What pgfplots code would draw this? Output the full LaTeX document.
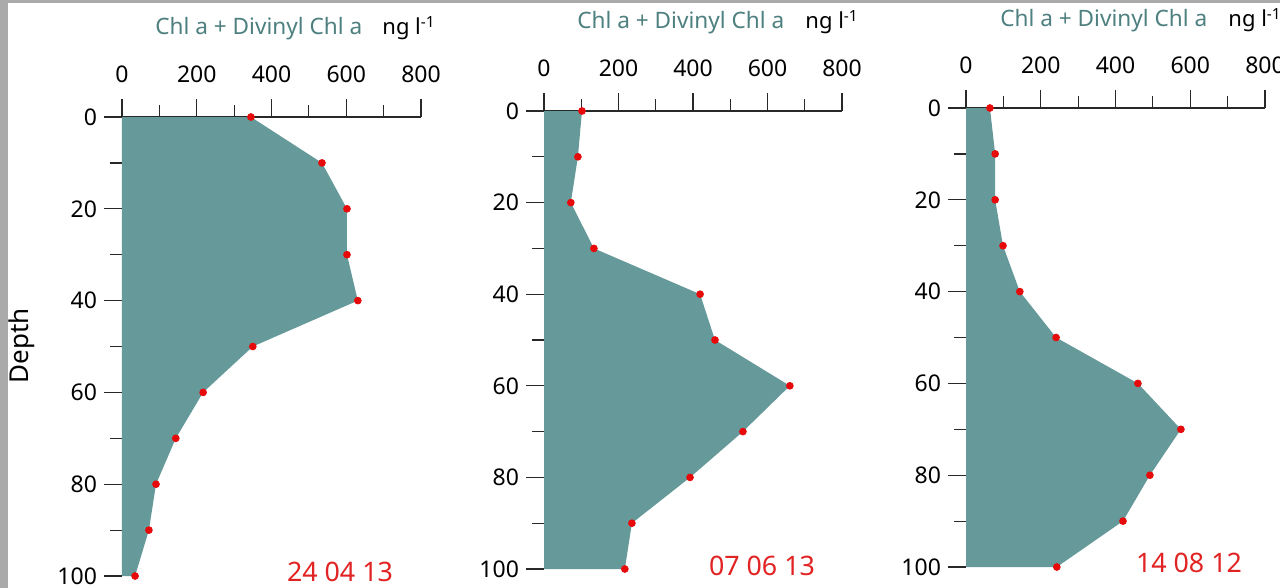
\documentclass[border=0pt]{standalone}
\usepackage{fontspec}
\setmainfont{Noto Sans}
\usepackage{pgfplots}
\pgfplotsset{compat=1.18}
\definecolor{chlfill}{RGB}{102,153,153}
\definecolor{chltitle}{RGB}{78,128,128}
\definecolor{dotred}{RGB}{230,10,10}
\definecolor{datered}{RGB}{225,35,35}
\definecolor{axgray}{RGB}{40,40,40}
\definecolor{frame}{RGB}{170,170,170}

\pgfplotsset{
  profile/.style={
    scale only axis,
    xmin=0, xmax=800, ymin=0, ymax=100,
    y dir=reverse,
    axis x line*=top,
    axis y line*=left,
    y axis line style={draw=none},
    x axis line style={axgray, line width=0.6pt, -},
    xtick={0,200,400,600,800},
    ytick={0,20,40,60,80,100},
    minor x tick num=1, minor y tick num=1,
    tick align=outside,
    major tick length=9pt, minor tick length=6pt,
    tick style={axgray, line width=0.6pt},
    tick label style={font=\fontsize{11.5}{13}\selectfont, black},
    xticklabel style={yshift=4.5pt},
    /pgf/number format/assume math mode=true,
    clip=false,
  },
}

\begin{document}
\begin{tikzpicture}
\useasboundingbox (0,0) rectangle (640pt,-294pt);
\fill[white] (0,0) rectangle (640pt,-294pt);
\fill[frame] (0,0) rectangle (4pt,-294pt);
\fill[frame] (0,0) rectangle (640pt,-1.5pt);

% panel 1: 24 04 13
\begin{axis}[profile, at={(61pt,-58.5pt)}, anchor=north west,
    width=149.5pt, height=229.5pt]
\addplot[fill=chlfill, draw=none] coordinates {
  (0,0) (345,0) (535,10) (602,20) (602,30) (631,40) (350,50) (217,60)
  (144,70) (91,80) (72,90) (35,100) (0,100)} -- cycle;
\addplot[only marks, mark=*, mark size=1.7pt, dotred] coordinates {
  (345,0) (535,10) (602,20) (602,30) (631,40) (350,50) (217,60)
  (144,70) (91,80) (72,90) (35,100)};
\end{axis}

% panel 2: 07 06 13
\begin{axis}[profile, at={(272pt,-55.5pt)}, anchor=north west,
    width=149pt, height=229pt]
\addplot[fill=chlfill, draw=none] coordinates {
  (0,0) (102,0) (91,10) (72,20) (134,30) (419,40) (459,50) (660,60)
  (534,70) (392,80) (236,90) (217,100) (0,100)} -- cycle;
\addplot[only marks, mark=*, mark size=1.7pt, dotred] coordinates {
  (102,0) (91,10) (72,20) (134,30) (419,40) (459,50) (660,60)
  (534,70) (392,80) (236,90) (217,100)};
\end{axis}

% panel 3: 14 08 12
\begin{axis}[profile, at={(483pt,-54pt)}, anchor=north west,
    width=149.5pt, height=229.5pt]
\addplot[fill=chlfill, draw=none] coordinates {
  (0,0) (64,0) (78,10) (78,20) (99,30) (144,40) (241,50) (460,60)
  (575,70) (492,80) (420,90) (243,100) (0,100)} -- cycle;
\addplot[only marks, mark=*, mark size=1.7pt, dotred] coordinates {
  (64,0) (78,10) (78,20) (99,30) (144,40) (241,50) (460,60)
  (575,70) (492,80) (420,90) (243,100)};
\end{axis}

% titles, units, dates, depth label (pixel coordinates)
\begin{scope}[x=0.5pt, y=-0.5pt, every node/.style={inner sep=0pt}]
  \node[anchor=base west, chltitle, font=\fontsize{11.3}{13}\selectfont] at (155,35) {Chl a + Divinyl Chl a};
  \node[anchor=base west, font=\fontsize{11}{13}\selectfont] at (382,35) {ng l\textsuperscript{-1}};
  \node[anchor=base west, chltitle, font=\fontsize{11.3}{13}\selectfont] at (577,29) {Chl a + Divinyl Chl a};
  \node[anchor=base west, font=\fontsize{11}{13}\selectfont] at (805,29) {ng l\textsuperscript{-1}};
  \node[anchor=base west, chltitle, font=\fontsize{11.3}{13}\selectfont] at (1000,27) {Chl a + Divinyl Chl a};
  \node[anchor=base west, font=\fontsize{11}{13}\selectfont] at (1228,27) {ng l\textsuperscript{-1}};
  \node[datered, font=\fontsize{13.4}{15}\selectfont] at (340,572) {24 04 13};
  \node[datered, font=\fontsize{13.4}{15}\selectfont] at (762,566) {07 06 13};
  \node[datered, font=\fontsize{13.4}{15}\selectfont] at (1189,563) {14 08 12};
  \node[rotate=90, font=\fontsize{13}{15}\selectfont] at (22,346) {Depth};
\end{scope}
\end{tikzpicture}
\end{document}
